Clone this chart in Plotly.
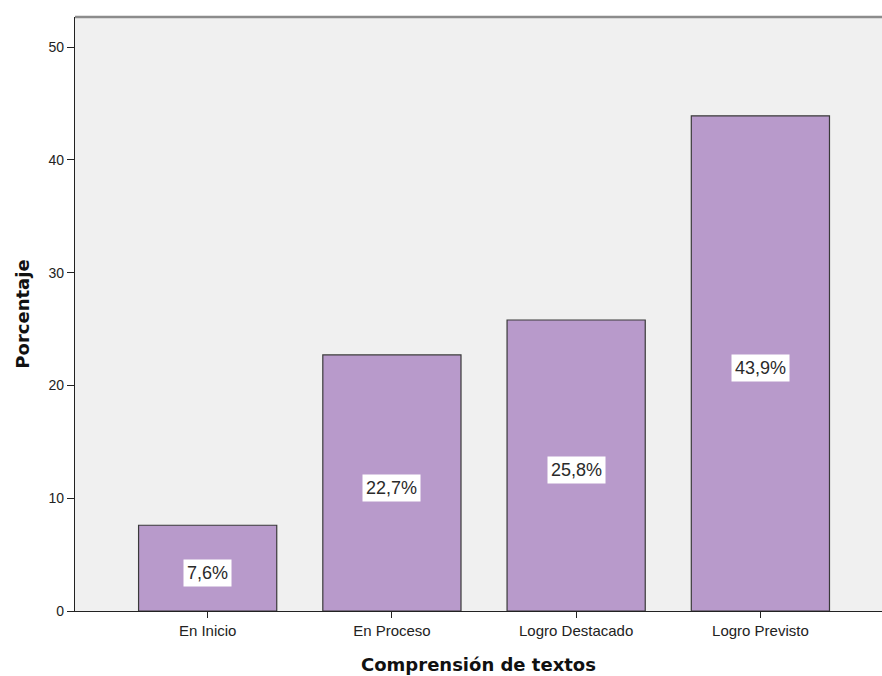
import plotly.graph_objects as go

categories = ["En Inicio", "En Proceso", "Logro Destacado", "Logro Previsto"]
values = [7.6, 22.7, 25.8, 43.9]
labels = ["7,6%", "22,7%", "25,8%", "43,9%"]

fig = go.Figure()
fig.add_trace(go.Bar(
    x=list(range(len(categories))), y=values,
    width=0.75,
    marker=dict(color="#B89ACB", line=dict(color="#3a3a3a", width=1.2)),
    hoverinfo="skip",
))

for i, (v, t) in enumerate(zip(values, labels)):
    fig.add_annotation(
        x=i, y=v / 2, text=t, showarrow=False, yshift=-5,
        font=dict(family="Liberation Sans, Arial", size=18, color="#2a2a2a"),
        bgcolor="white", borderpad=3,
    )

fig.add_shape(type="line", xref="paper", yref="paper", x0=0, x1=1, y0=1, y1=1,
              layer="above", line=dict(color="#8c8c8c", width=2.5))

fig.update_layout(
    width=882, height=676,
    margin=dict(l=75, r=0, t=17, b=65),
    paper_bgcolor="white", plot_bgcolor="#F0F0F0",
    showlegend=False,
    font=dict(family="Liberation Sans, Arial", color="#222"),
    xaxis=dict(
        range=[-0.72, 3.66], tickmode="array",
        tickvals=list(range(len(categories))), ticktext=categories,
        ticks="outside", ticklen=6, tickcolor="#222", tickwidth=1,
        showline=True, linecolor="#222", linewidth=1.2,
        showgrid=False, zeroline=False,
        tickfont=dict(family="Liberation Sans, Arial", size=15, color="#222"),
        title=dict(text="<b>Comprensión de textos</b>", standoff=20,
                   font=dict(family="DejaVu Sans, Verdana", size=18, color="#111")),
    ),
    yaxis=dict(
        range=[0, 52.66], tickvals=[0, 10, 20, 30, 40, 50],
        ticks="outside", ticklen=7, tickcolor="#222", tickwidth=1,
        showline=True, linecolor="#222", linewidth=1.2,
        showgrid=False, zeroline=False,
        tickfont=dict(family="Liberation Sans, Arial", size=14, color="#222"),
        title=dict(text="<b>Porcentaje</b>", standoff=14,
                   font=dict(family="DejaVu Sans, Verdana", size=18, color="#111")),
    ),
)

fig.write_html("out.html", config={"displayModeBar": False},
               post_script="document.body.style.margin='0';document.body.style.padding='0';")
